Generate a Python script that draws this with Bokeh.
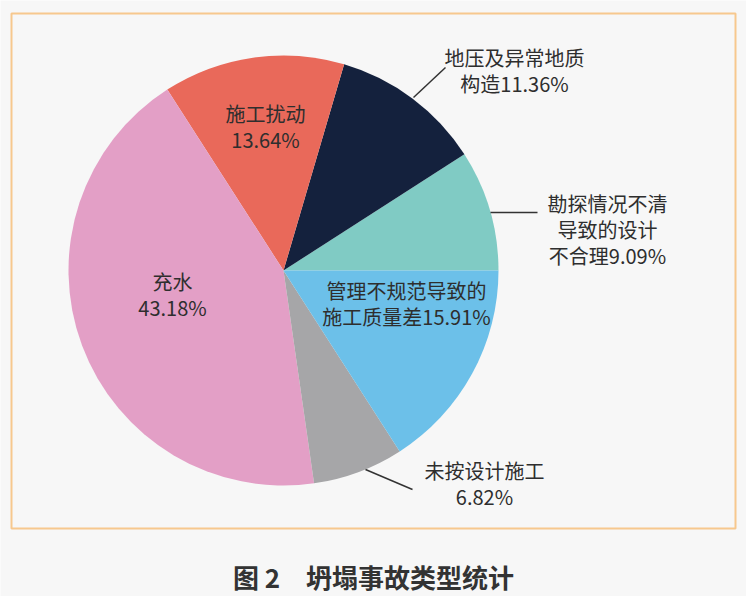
import numpy as np
from bokeh.plotting import figure
from bokeh.models import Range1d
from bokeh.core.properties import value
from bokeh.embed import file_html
from bokeh.resources import INLINE

# ---- data ----
categories = ["勘探情况不清导致的设计不合理", "地压及异常地质构造", "施工扰动", "充水",
              "未按设计施工", "管理不规范导致的施工质量差"]
shares = [9.09, 11.36, 13.64, 43.18, 6.82, 15.91]
colors = ["#80cbc4", "#14213d", "#e9695a", "#e39fc6", "#a6a6a8", "#6cc0e9"]
label_lines = [
    ["勘探情况不清", "导致的设计", "不合理9.09%"],
    ["地压及异常地质", "构造11.36%"],
    ["施工扰动", "13.64%"],
    ["充水", "43.18%"],
    ["未按设计施工", "6.82%"],
    ["管理不规范导致的", "施工质量差15.91%"],
]
title_text = "图 2　坍塌事故类型统计"

# ---- layout (pixel space, y measured from top) ----
W, H = 746, 596
cx, cy, R = 283, 270, 215
label_pos = [(607, 203), (514, 57), (265, 113), (172, 281), (484, 470), (406, 290)]
leaders = [((490, 212), (537, 212)), ((413, 97), (445, 67)), None, None,
           ((365, 469), (412, 489)), None]
LS = 26

def fy(y):
    return H - y

p = figure(width=W, height=H, output_backend="svg", toolbar_location=None,
           x_range=Range1d(0, W), y_range=Range1d(0, H), min_border=0)
p.axis.visible = False
p.grid.visible = False
p.outline_line_color = None
p.background_fill_color = "#f7f7f7"
p.border_fill_color = "#f7f7f7"

# frame box
p.quad(left=[11], right=[735], top=[fy(13)], bottom=[fy(528)],
       fill_color=None, line_color="#f7c88e", line_width=2)

# wedges
fr = np.array(shares) / sum(shares)
ends = np.cumsum(fr) * 2 * np.pi
starts = np.concatenate([[0], ends[:-1]])
p.wedge(x=cx, y=fy(cy), radius=R, start_angle=starts, end_angle=ends,
        fill_color=colors, line_color=None)

# labels
xs, ys, ts = [], [], []
for (lx, ly), lines in zip(label_pos, label_lines):
    for i, t in enumerate(lines):
        xs.append(lx); ys.append(fy(ly + i * LS)); ts.append(t)
p.text(x=xs, y=ys, text=ts, text_align="center", text_baseline="middle",
       text_font=value("Noto Sans CJK SC"), text_font_size="20px", text_color="#2e2e2e")

# leader lines
sx0, sy0, sx1, sy1 = [], [], [], []
for l in leaders:
    if l:
        sx0.append(l[0][0]); sy0.append(fy(l[0][1])); sx1.append(l[1][0]); sy1.append(fy(l[1][1]))
p.segment(x0=sx0, y0=sy0, x1=sx1, y1=sy1, line_color="#333333", line_width=1.5)

# caption
p.text(x=[373], y=[fy(576)], text=[title_text], text_align="center", text_baseline="middle",
       text_font=value("Noto Sans CJK SC"), text_font_size="26px", text_font_style="bold",
       text_color="#333333")

open("out.html", "w").write(file_html(p, INLINE))
